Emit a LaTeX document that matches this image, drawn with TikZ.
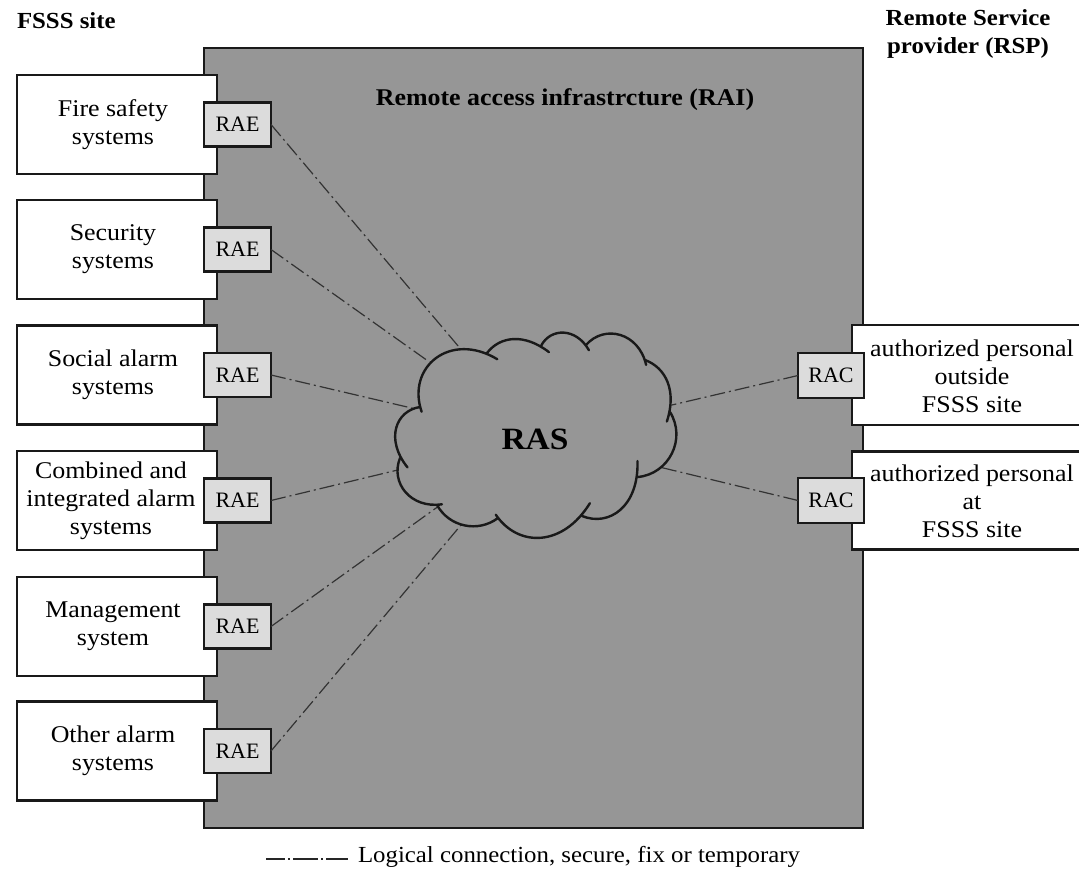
\documentclass[tikz,border=0pt]{standalone}
\usepackage{fontspec}
\setmainfont[FakeStretch=1.08]{Liberation Serif}
\newfontfamily\capfont{Liberation Serif}
\begin{document}
\begin{tikzpicture}[x=1pt,y=-1pt,
  every node/.style={inner sep=0pt, outer sep=0pt},
  txt/.style={font=\fontsize{24}{28}\selectfont, align=center},
  bold/.style={font=\fontsize{23}{28}\selectfont\bfseries, align=center},
  sysbox/.style={draw=black!90, line width=2.2pt, fill=white, minimum width=200pt, minimum height=99pt},
  endbox/.style={font=\capfont\fontsize{22}{26}\selectfont, draw=black!90, line width=2.2pt, fill=raegray, minimum width=67pt, minimum height=44pt},
  logic/.style={draw=black!80, line width=1.2pt, dash pattern=on 15pt off 4pt on 2pt off 4pt},
  puff/.style={draw=black!90, line width=2.4pt, line cap=round}
]
\definecolor{raigray}{RGB}{150,150,150}
\definecolor{raegray}{RGB}{220,220,220}
\useasboundingbox (0,0) rectangle (1079,872);

% remote access infrastructure
\node[draw=black!90, line width=2.2pt, fill=raigray, minimum width=659pt, minimum height=780pt] (rai) at (533.5,438) {};
\node[bold, font=\fontsize{24}{28}\selectfont\bfseries] (railabel) at (565,100) {Remote access infrastrcture (RAI)};

% headers
\node[bold, anchor=west] (fsss) at (17,21) {FSSS site};
\node[bold] (rsp) at (968,34) {Remote Service\\provider (RSP)};

% FSSS site systems
\foreach \i/\y in {1/124.5,2/249.5,3/375,4/500.5,5/626.5,6/751}
  \node[sysbox] (s\i) at (117,\y) {};
\node[txt] (s1t) at (113,124.5) {Fire safety\\systems};
\node[txt] (s2t) at (113,249.5) {Security\\systems};
\node[txt] (s3t) at (113,375) {Social alarm\\systems};
\node[txt] (s4t) at (111,500.5) {Combined and\\integrated alarm\\systems};
\node[txt] (s5t) at (113,626.5) {Management\\system};
\node[txt] (s6t) at (113,751) {Other alarm\\systems};

\foreach \i/\y in {1/124.5,2/249.5,3/375,4/500.5,5/626.5,6/751}
  \node[endbox] (e\i) at (237.5,\y) {RAE};

% remote service provider
\node[sysbox, minimum width=230pt, minimum height=100pt] (p1) at (967,375) {};
\node[sysbox, minimum width=230pt, minimum height=98pt] (p2) at (967,500.5) {};
\node[txt] (p1t) at (972,376) {authorized personal\\outside\\FSSS site};
\node[txt] (p2t) at (972,501.5) {authorized personal\\at\\FSSS site};
\node[endbox, minimum width=66pt, minimum height=45pt] (r1) at (831,375.5) {RAC};
\node[endbox, minimum width=66pt, minimum height=45pt] (r2) at (831,500.5) {RAC};

% logical connections (towards the cloud centre, covered by the cloud)
\coordinate (rasc) at (535,437);
\foreach \i in {1,...,6} \draw[logic] (e\i.east) -- (rasc);
\draw[logic] (r1.west) -- (rasc);
\draw[logic] (r2.west) -- (rasc);

% cloud
\coordinate (J1) at (420,407);
\coordinate (J11) at (487,353);
\coordinate (J10) at (541,346);
\coordinate (J9) at (586,345);
\coordinate (J8) at (645,360);
\coordinate (J7) at (670,412);
\coordinate (J6) at (638,477);
\coordinate (J5) at (582,516);
\coordinate (J4) at (498,518);
\coordinate (J3) at (437,505);
\coordinate (J2) at (400,458);
\fill[raigray] (J1) to[bend left=70,looseness=1.27] (J11)
  to[bend left=45,looseness=1.0] (J10)
  to[bend left=62,looseness=1.16] (J9)
  to[bend left=63,looseness=1.18] (J8)
  to[bend left=44,looseness=0.99] (J7)
  to[bend left=58,looseness=1.11] (J6)
  to[bend left=57,looseness=1.10] (J5)
  to[bend left=57,looseness=1.10] (J4)
  to[bend left=49,looseness=1.03] (J3)
  to[bend left=60,looseness=1.14] (J2)
  to[bend left=60,looseness=1.14] (J1) -- cycle;
\draw[puff, shorten <=-5pt, shorten >=-12pt] (J1) to[bend left=70,looseness=1.27] (J11);
\draw[puff, shorten >=-10pt] (J11) to[bend left=45,looseness=1.0] (J10);
\draw[puff, shorten >=-6pt] (J10) to[bend left=62,looseness=1.16] (J9);
\draw[puff, shorten >=-5pt] (J9) to[bend left=63,looseness=1.18] (J8);
\draw[puff, shorten >=-10pt] (J8) to[bend left=44,looseness=0.99] (J7);
\draw[puff] (J7) to[bend left=58,looseness=1.11] (J6);
\draw[puff, shorten <=-16pt] (J6) to[bend left=57,looseness=1.10] (J5);
\draw[puff, shorten <=-15pt, shorten >=-4pt] (J5) to[bend left=57,looseness=1.10] (J4);
\draw[puff] (J4) to[bend left=49,looseness=1.03] (J3);
\draw[puff, shorten <=-5pt] (J3) to[bend left=60,looseness=1.14] (J2);
\draw[puff, shorten <=-12pt] (J2) to[bend left=60,looseness=1.14] (J1);
\node[font=\fontsize{31}{36}\selectfont\bfseries] (ras) at (535,439) {RAS};

% legend
\coordinate (lg1) at (266,859);
\coordinate (lg2) at (348,859);
\draw[draw=black!85, line width=1.3pt, dash pattern=on 19pt off 3pt on 2pt off 3pt on 25pt off 3pt on 2pt off 3pt on 30pt] (lg1) -- (lg2);
\node[txt, font=\fontsize{23}{28}\selectfont, anchor=west] (legend) at (358,857) {Logical connection, secure, fix or temporary};
\end{tikzpicture}
\end{document}
